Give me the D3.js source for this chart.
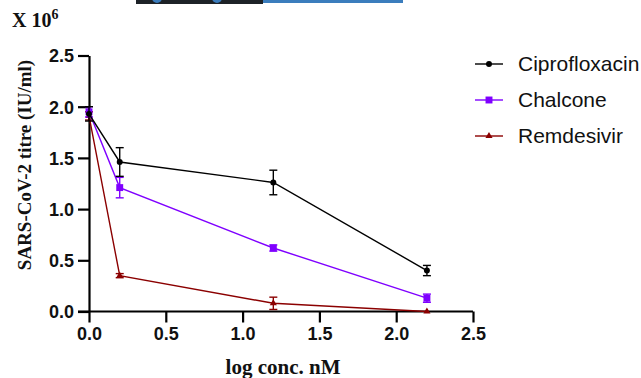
<!DOCTYPE html>
<html>
<head>
<meta charset="utf-8">
<script src="https://cdn.jsdelivr.net/npm/d3@7"></script>
<style>
  body { margin: 0; background: #fff; }
  svg { display: block; }
  .tick text { font-family: "Liberation Sans", Arial, sans-serif; font-weight: bold; font-size: 18px; fill: #111; }
</style>
</head>
<body>
<div id="chart"></div>
<script>
// x values (log conc. nM)
const doses = [0, 0.2, 1.2, 2.2];
const seriesNames = ["Ciprofloxacin", "Chalcone", "Remdesivir"];
const ciproMean = [1.93, 1.46, 1.26, 0.40];
const ciproErr = [0.07, 0.14, 0.12, 0.05];
const chalconeMean = [1.95, 1.21, 0.62, 0.13];
const chalconeErr = [0.05, 0.10, 0.03, 0.04];
const remdesivirMean = [1.91, 0.35, 0.08, 0.0];
const remdesivirErr = [0.04, 0.02, 0.06, 0.0];
const xTicks = [0, 0.5, 1.0, 1.5, 2.0, 2.5];
const yTicks = [0, 0.5, 1.0, 1.5, 2.0, 2.5];

const width = 641, height = 378;
const colors = ["#000000", "#7f00ff", "#8b0000"];
const markers = [d3.symbolCircle, d3.symbolSquare, d3.symbolTriangle];
const markerSizes = [28, 48, 22];

const svg = d3.select("#chart").append("svg")
  .attr("width", width)
  .attr("height", height);

// cropped strip from the neighbouring figure at the top edge
svg.append("rect").attr("x", 136).attr("y", 0).attr("width", 127).attr("height", 4).attr("fill", "#1d2227");
svg.append("rect").attr("x", 263).attr("y", 0).attr("width", 140).attr("height", 3).attr("fill", "#3b7dbd");
svg.append("circle").attr("cx", 157).attr("cy", -2).attr("r", 5).attr("fill", "#3b7dbd");
svg.append("circle").attr("cx", 217).attr("cy", -2).attr("r", 5).attr("fill", "#3b7dbd");

const xScale = d3.scaleLinear().domain([0, 2.5]).range([89, 473]);
const yScale = d3.scaleLinear().domain([0, 2.5]).range([311.5, 55.5]);

// axes
const xAxis = svg.append("g")
  .attr("transform", `translate(0,${yScale(0)})`)
  .call(d3.axisBottom(xScale).tickValues(xTicks).tickFormat(d3.format(".1f"))
    .tickSize(11).tickSizeOuter(0).tickPadding(5));
const yAxis = svg.append("g")
  .attr("transform", `translate(${xScale(0)},0)`)
  .call(d3.axisLeft(yScale).tickValues(yTicks).tickFormat(d3.format(".1f"))
    .tickSize(11).tickSizeOuter(0).tickPadding(4));
[xAxis, yAxis].forEach(a => {
  a.selectAll("path, line").attr("stroke", "#000").attr("stroke-width", 2.2);
});
// x axis line reaches the 0 tick of the y axis
xAxis.select(".domain").attr("d", `M${xScale(0) - 11},0H${xScale(2.5)}`);
yAxis.selectAll(".tick text").attr("dy", "0.36em");

const allMeans = [ciproMean, chalconeMean, remdesivirMean];
const allErrs = [ciproErr, chalconeErr, remdesivirErr];

const line = d3.line().x(d => xScale(d[0])).y(d => yScale(d[1]));

// draw in reverse so Ciprofloxacin sits on top
[2, 1, 0].forEach(i => {
  const pts = doses.map((x, j) => [x, allMeans[i][j], allErrs[i][j]]);
  const g = svg.append("g");
  g.append("path")
    .datum(pts)
    .attr("d", line)
    .attr("fill", "none")
    .attr("stroke", colors[i])
    .attr("stroke-width", 1.4);
  const eb = g.selectAll(".eb").data(pts.filter(p => p[2] > 0)).enter().append("g");
  eb.append("line")
    .attr("x1", d => xScale(d[0])).attr("x2", d => xScale(d[0]))
    .attr("y1", d => yScale(d[1] - d[2])).attr("y2", d => yScale(d[1] + d[2]))
    .attr("stroke", colors[i]).attr("stroke-width", 1.4);
  [-1, 1].forEach(s => {
    eb.append("line")
      .attr("x1", d => xScale(d[0]) - 4).attr("x2", d => xScale(d[0]) + 4)
      .attr("y1", d => yScale(d[1] + s * d[2])).attr("y2", d => yScale(d[1] + s * d[2]))
      .attr("stroke", colors[i]).attr("stroke-width", 1.4);
  });
  g.selectAll(".pt").data(pts).enter().append("path")
    .attr("transform", d => `translate(${xScale(d[0])},${yScale(d[1])})`)
    .attr("d", d3.symbol().type(markers[i]).size(markerSizes[i]))
    .attr("fill", colors[i]);
});

// legend
const legend = svg.append("g").attr("transform", "translate(475,64)");
seriesNames.forEach((name, i) => {
  const row = legend.append("g").attr("transform", `translate(0,${i * 36})`);
  row.append("line").attr("x1", 0).attr("x2", 28).attr("y1", 0).attr("y2", 0)
    .attr("stroke", colors[i]).attr("stroke-width", 1.4);
  row.append("path").attr("transform", "translate(14,0)")
    .attr("d", d3.symbol().type(markers[i]).size(markerSizes[i]))
    .attr("fill", colors[i]);
  row.append("text").attr("x", 43).attr("y", 0).attr("dy", "0.35em")
    .attr("font-family", "Liberation Sans, Arial, sans-serif")
    .attr("font-size", 21).attr("fill", "#111")
    .text(name);
});

// titles
svg.append("text")
  .attr("x", 283).attr("y", 374)
  .attr("text-anchor", "middle")
  .attr("font-family", "Liberation Serif, Times New Roman, serif")
  .attr("font-weight", "bold").attr("font-size", 21).attr("fill", "#111")
  .text("log conc. nM");
svg.append("text")
  .attr("transform", "translate(31,165) rotate(-90)")
  .attr("text-anchor", "middle")
  .attr("font-family", "Liberation Serif, Times New Roman, serif")
  .attr("font-weight", "bold").attr("font-size", 19).attr("fill", "#111")
  .text("SARS-CoV-2 titre (IU/ml)");
const mult = svg.append("text")
  .attr("x", 12).attr("y", 27)
  .attr("font-family", "Liberation Serif, Times New Roman, serif")
  .attr("font-weight", "bold").attr("font-size", 20).attr("fill", "#111");
mult.append("tspan").text("X 10");
mult.append("tspan").attr("dy", -8).attr("font-size", 14).text("6");
</script>
</body>
</html>
